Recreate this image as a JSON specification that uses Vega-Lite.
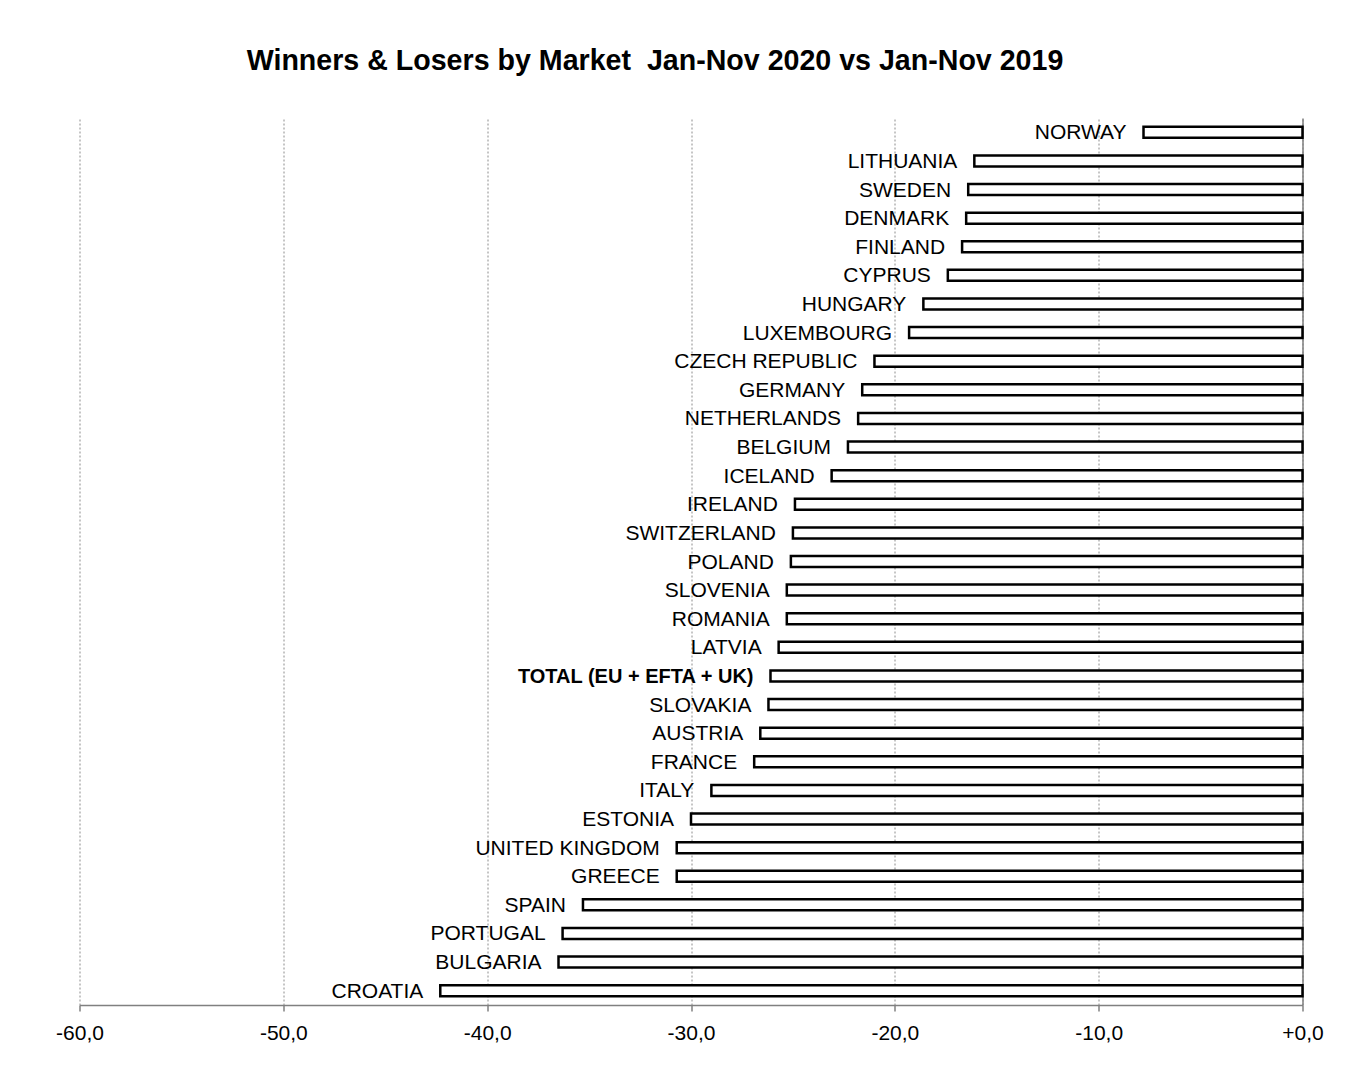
{
  "$schema": "https://vega.github.io/schema/vega-lite/v6.json",
  "width": 1223,
  "height": 887,
  "autosize": {"type": "none"},
  "padding": {"left": 79.5, "top": 118, "right": 62.5, "bottom": 67},
  "background": "white",
  "title": {
    "text": "Winners & Losers by Market\u00a0 Jan-Nov 2020 vs Jan-Nov 2019",
    "font": "Liberation Sans",
    "fontSize": 28.6,
    "fontWeight": "bold",
    "color": "black",
    "anchor": "middle",
    "baseline": "alphabetic",
    "offset": 19,
    "dx": -36
  },
  "config": {
    "view": {"stroke": null},
    "font": "Liberation Sans"
  },
  "data": {
    "values": [
      {"market": "NORWAY", "change": -7.8},
      {"market": "LITHUANIA", "change": -16.1},
      {"market": "SWEDEN", "change": -16.4},
      {"market": "DENMARK", "change": -16.5},
      {"market": "FINLAND", "change": -16.7},
      {"market": "CYPRUS", "change": -17.4},
      {"market": "HUNGARY", "change": -18.6},
      {"market": "LUXEMBOURG", "change": -19.3},
      {"market": "CZECH REPUBLIC", "change": -21.0},
      {"market": "GERMANY", "change": -21.6},
      {"market": "NETHERLANDS", "change": -21.8},
      {"market": "BELGIUM", "change": -22.3},
      {"market": "ICELAND", "change": -23.1},
      {"market": "IRELAND", "change": -24.9},
      {"market": "SWITZERLAND", "change": -25.0},
      {"market": "POLAND", "change": -25.1},
      {"market": "SLOVENIA", "change": -25.3},
      {"market": "ROMANIA", "change": -25.3},
      {"market": "LATVIA", "change": -25.7},
      {"market": "TOTAL (EU + EFTA + UK)", "change": -26.1},
      {"market": "SLOVAKIA", "change": -26.2},
      {"market": "AUSTRIA", "change": -26.6},
      {"market": "FRANCE", "change": -26.9},
      {"market": "ITALY", "change": -29.0},
      {"market": "ESTONIA", "change": -30.0},
      {"market": "UNITED KINGDOM", "change": -30.7},
      {"market": "GREECE", "change": -30.7},
      {"market": "SPAIN", "change": -35.3},
      {"market": "PORTUGAL", "change": -36.3},
      {"market": "BULGARIA", "change": -36.5},
      {"market": "CROATIA", "change": -42.3}
    ]
  },
  "encoding": {
    "y": {
      "field": "market",
      "type": "nominal",
      "sort": null,
      "scale": {"paddingInner": 0, "paddingOuter": 0},
      "axis": {
        "orient": "right",
        "title": null,
        "labels": false,
        "ticks": false,
        "domainColor": "#808080",
        "domainWidth": 1.5,
        "grid": false
      }
    },
    "x": {
      "field": "change",
      "type": "quantitative",
      "scale": {"domain": [-60, 0], "nice": false},
      "axis": {
        "title": null,
        "values": [-60, -50, -40, -30, -20, -10, 0],
        "labelExpr": "datum.value == 0 ? '+0,0' : '-' + replace(format(abs(datum.value), '.1f'), '.', ',')",
        "labelFont": "Liberation Sans",
        "labelFontSize": 21,
        "labelColor": "black",
        "labelPadding": 11,
        "labelFlush": false,
        "labelOverlap": false,
        "tickColor": "#808080",
        "tickSize": 6,
        "tickWidth": 1.5,
        "domainColor": "#808080",
        "domainWidth": 1.5,
        "grid": true,
        "gridColor": "#8c8c8c",
        "gridDash": [2, 2],
        "gridWidth": 1
      }
    }
  },
  "layer": [
    {
      "mark": {"type": "bar", "size": 11, "fill": "white", "stroke": "black", "strokeWidth": 2.5}
    },
    {
      "transform": [{"filter": "datum.market != 'TOTAL (EU + EFTA + UK)'"}],
      "mark": {"type": "text", "align": "right", "baseline": "middle", "dx": -17, "dy": 1, "font": "Liberation Sans", "fontSize": 21, "color": "black"},
      "encoding": {"text": {"field": "market"}}
    },
    {
      "transform": [{"filter": "datum.market == 'TOTAL (EU + EFTA + UK)'"}],
      "mark": {"type": "text", "align": "right", "baseline": "middle", "dx": -17, "dy": 1, "font": "Liberation Sans", "fontSize": 20, "fontWeight": "bold", "color": "black"},
      "encoding": {"text": {"field": "market"}}
    }
  ]
}
